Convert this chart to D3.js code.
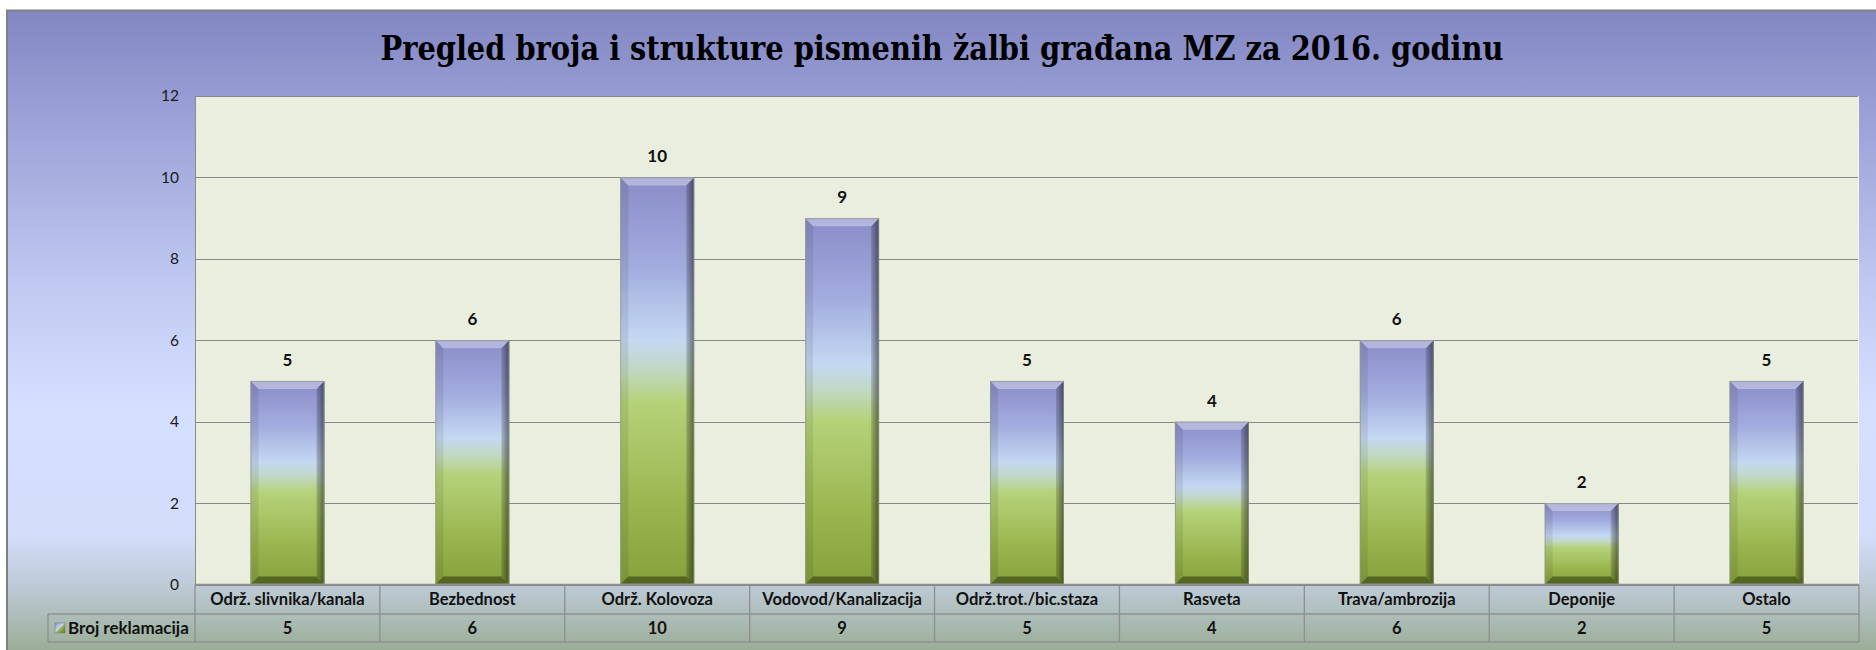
<!DOCTYPE html>
<html><head><meta charset="utf-8">
<script src="https://cdn.jsdelivr.net/npm/d3@7"></script>
<style>
html,body{margin:0;padding:0;background:#fff;}
svg{display:block;}
</style></head>
<body>
<svg id="chart" width="1876" height="650"></svg>
<script>
const title = "Pregled broja i strukture pismenih žalbi građana MZ za 2016. godinu";
const categories = ["Održ. slivnika/kanala","Bezbednost","Održ. Kolovoza","Vodovod/Kanalizacija","Održ.trot./bic.staza","Rasveta","Trava/ambrozija","Deponije","Ostalo"];
const values = [5,6,10,9,5,4,6,2,5];
const seriesName = "Broj reklamacija";
const yTicks = [0,2,4,6,8,10,12];

const svg = d3.select("#chart");
const W = 1876, H = 650;
const plot = {left:195, right:1859, top:96, bottom:584.5};
const rowH1 = 29.5, rowH2 = 28;

const defs = svg.append("defs");
const bg = defs.append("linearGradient").attr("id","bgGrad").attr("x1",0).attr("y1",0).attr("x2",0).attr("y2",1);
[[0,"#8286c2"],[0.14,"#979dd4"],[0.45,"#c2ccf3"],[0.62,"#d5dfff"],[0.82,"#d3ddfa"],[0.9,"#bdcad6"],[1,"#9bae97"]]
  .forEach(s=>bg.append("stop").attr("offset",s[0]).attr("stop-color",s[1]));
const bar = defs.append("linearGradient").attr("id","barGrad").attr("x1",0).attr("y1",0).attr("x2",0).attr("y2",1);
[[0,"#8a8cc8"],[0.22,"#a3acde"],[0.4,"#c4d8f2"],[0.47,"#c2d8c4"],[0.55,"#b5d27a"],[0.8,"#9bb650"],[1,"#86a03c"]]
  .forEach(s=>bar.append("stop").attr("offset",s[0]).attr("stop-color",s[1]));
const rb = defs.append("linearGradient").attr("id","rightBevel").attr("x1",0).attr("y1",0).attr("x2",1).attr("y2",0);
rb.append("stop").attr("offset",0).attr("stop-color","#000").attr("stop-opacity",0.15);
rb.append("stop").attr("offset",1).attr("stop-color","#000").attr("stop-opacity",0.5);
const iconG = defs.append("linearGradient").attr("id","iconGrad").attr("x1",0).attr("y1",0).attr("x2",1).attr("y2",1);
[[0,"#8a8cc8"],[0.45,"#c4d8f2"],[0.55,"#9bb650"],[1,"#5d7428"]].forEach(s=>iconG.append("stop").attr("offset",s[0]).attr("stop-color",s[1]));

svg.append("rect").attr("x",7).attr("y",10).attr("width",W-7).attr("height",H-10).attr("fill","url(#bgGrad)");
svg.append("line").attr("x1",6).attr("x2",W).attr("y1",10.5).attr("y2",10.5).attr("stroke","#808080").attr("stroke-width",2);
svg.append("line").attr("x1",7).attr("x2",7).attr("y1",10).attr("y2",H).attr("stroke","#808080").attr("stroke-width",2);

svg.append("text").attr("x",942).attr("y",60).attr("text-anchor","middle")
  .attr("font-family","'DejaVu Serif Condensed','DejaVu Serif',serif").attr("font-weight","bold").attr("font-size",34)
  .attr("textLength",1123).attr("lengthAdjust","spacingAndGlyphs").attr("fill","#000").text(title);

const x = d3.scaleBand().domain(categories).range([plot.left, plot.right]).paddingInner(0.6).paddingOuter(0.3);
const y = d3.scaleLinear().domain([0,12]).range([plot.bottom, plot.top]);
const step = x.step();

svg.append("rect").attr("x",plot.left).attr("y",plot.top).attr("width",plot.right-plot.left).attr("height",plot.bottom-plot.top).attr("fill","#eaeedf");

const yAxis = d3.axisLeft(y).tickValues(yTicks).tickSize(-(plot.right-plot.left)).tickPadding(16).tickFormat(d3.format("d"));
const ga = svg.append("g").attr("transform",`translate(${plot.left},0)`).call(yAxis);
ga.select(".domain").remove();
ga.selectAll(".tick line").attr("stroke","#878787").attr("stroke-width",1).attr("shape-rendering","crispEdges");
ga.selectAll(".tick text").attr("font-family","Lato,'Open Sans',sans-serif").attr("font-size",15.5).attr("fill","#1a1a1a");
svg.append("line").attr("x1",plot.left+0.5).attr("x2",plot.left+0.5).attr("y1",plot.top).attr("y2",plot.bottom).attr("stroke","#8a8a8a");
svg.append("line").attr("x1",plot.right-0.5).attr("x2",plot.right-0.5).attr("y1",plot.top).attr("y2",plot.bottom).attr("stroke","#f4f6ee");

const bev = 8;
const bars = svg.append("g").selectAll("g").data(categories.map((c,i)=>({c,v:values[i]}))).join("g");
bars.each(function(d){
  const g = d3.select(this);
  const x0 = x(d.c), w = x.bandwidth(), y0 = y(d.v), y1 = y(0), h = y1-y0;
  const b = Math.min(bev, h/4);
  g.append("rect").attr("x",x0).attr("y",y0).attr("width",w).attr("height",h).attr("fill","url(#barGrad)");
  g.append("polygon").attr("points",`${x0},${y0} ${x0+w},${y0} ${x0+w-b},${y0+b} ${x0+b},${y0+b}`).attr("fill","#fff").attr("fill-opacity",0.35);
  g.append("polygon").attr("points",`${x0},${y0} ${x0+b},${y0+b} ${x0+b},${y1-b} ${x0},${y1}`).attr("fill","#000").attr("fill-opacity",0.08);
  g.append("polygon").attr("points",`${x0+w},${y0} ${x0+w},${y1} ${x0+w-b},${y1-b} ${x0+w-b},${y0+b}`).attr("fill","url(#rightBevel)");
  g.append("polygon").attr("points",`${x0},${y1} ${x0+w},${y1} ${x0+w-b},${y1-b} ${x0+b},${y1-b}`).attr("fill","#1f2a05").attr("fill-opacity",0.5);
  g.append("rect").attr("x",x0+0.5).attr("y",y0+0.5).attr("width",w-1).attr("height",h-1).attr("fill","none").attr("stroke","#8f9a86").attr("stroke-opacity",0.7);
  g.append("text").attr("x",x0+w/2).attr("y",y0-15).attr("text-anchor","middle")
    .attr("font-family","Lato,'Open Sans',sans-serif").attr("font-weight","bold").attr("font-size",17).attr("fill","#111").text(d.v);
});

const t = svg.append("g");
const r0 = plot.bottom, r1 = plot.bottom+rowH1, r2 = r1+rowH2;
const tableLeft = 48;
const lc = "#8f8f8f";
function hl(x1,x2,yy){ t.append("line").attr("x1",x1).attr("x2",x2).attr("y1",yy).attr("y2",yy).attr("stroke",lc).attr("stroke-width",1.3); }
function vl(xx,y1,y2){ t.append("line").attr("x1",xx).attr("x2",xx).attr("y1",y1).attr("y2",y2).attr("stroke",lc).attr("stroke-width",1.3); }
hl(plot.left, plot.right, r0);
hl(tableLeft, plot.right, r1);
hl(tableLeft, plot.right, r2);
vl(tableLeft, r1, r2);
vl(plot.left, r0, r2);
categories.forEach((c,i)=>{ vl(plot.left+step*(i+1), r0, r2); });

t.selectAll("text.cat").data(categories).join("text").attr("class","cat")
  .attr("x",d=>x(d)+x.bandwidth()/2).attr("y",(r0+r1)/2).attr("dy","0.36em").attr("text-anchor","middle")
  .attr("font-family","Lato,'Open Sans',sans-serif").attr("font-weight","bold").attr("font-size",16.5).attr("fill","#111").text(d=>d);
t.selectAll("text.val").data(values).join("text").attr("class","val")
  .attr("x",(d,i)=>x(categories[i])+x.bandwidth()/2).attr("y",(r1+r2)/2).attr("dy","0.36em").attr("text-anchor","middle")
  .attr("font-family","Lato,'Open Sans',sans-serif").attr("font-weight","bold").attr("font-size",16.5).attr("fill","#111").text(d=>d);
t.append("rect").attr("x",55).attr("y",(r1+r2)/2-5).attr("width",10).attr("height",10).attr("fill","url(#iconGrad)").attr("stroke","#6d7890").attr("stroke-width",0.5);
t.append("text").attr("x",68).attr("y",(r1+r2)/2).attr("dy","0.36em")
  .attr("font-family","Lato,'Open Sans',sans-serif").attr("font-weight","bold").attr("font-size",17).attr("fill","#111").text(seriesName);
</script>
</body></html>
